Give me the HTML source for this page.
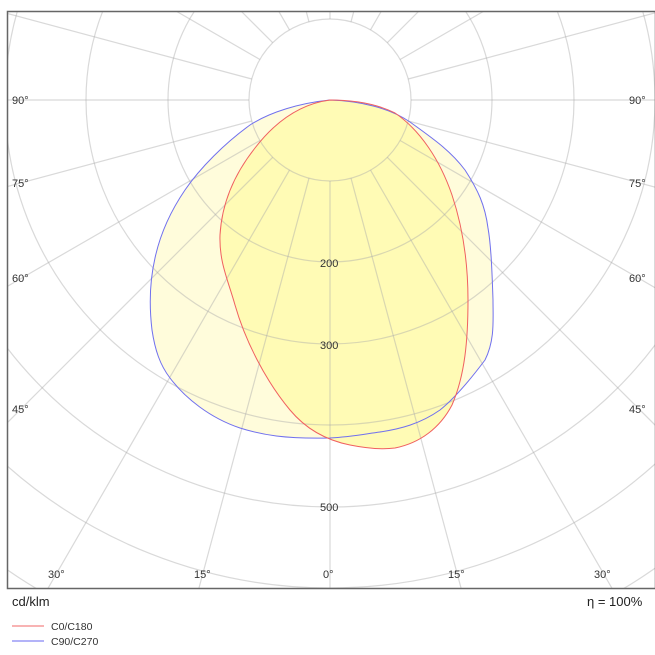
<!DOCTYPE html>
<html><head><meta charset="utf-8"><style>
html,body{margin:0;padding:0;background:#fff;width:655px;height:655px;overflow:hidden;font-family:"Liberation Sans",sans-serif}
svg{display:block}
</style></head><body>
<svg width="655" height="655" xmlns="http://www.w3.org/2000/svg" font-family="Liberation Sans, sans-serif">
<defs><clipPath id="c"><rect x="7" y="11" width="648" height="577"/></clipPath></defs>
<g clip-path="url(#c)">
<path d="M330,100 C300,103 270,112 250,125 C225,143 200,168 185,190 C170,212 160,235 155,258 C150,280 149,305 152,330 C155,350 160,365 170,378 C185,398 210,418 240,428 C262,435 285,439 330,438 C350,437 365,434 380,432 C400,429 420,424 440,410 C455,398 470,380 485,360 C495,340 493,320 493,300 C492,270 491,245 488,228 C485,205 478,190 465,170 C450,150 432,138 410,122 C390,108 360,101 330,100Z" fill="#fffcdb"/>
<path d="M330,100 C300,104 275,122 255,148 C236,172 222,200 220,235 C219,262 228,280 235,305 C245,340 265,380 290,410 C305,428 325,440 350,445 C365,448 380,450 395,448 C420,443 440,428 452,405 C465,375 468,340 468,300 C468,260 462,225 452,195 C440,160 420,130 395,113 C375,103 350,100 330,100Z" fill="#fffbb5"/>
<g stroke="#aaa" stroke-opacity="0.45" fill="none" stroke-width="1.2">
<circle cx="330" cy="100" r="81"/><circle cx="330" cy="100" r="162"/><circle cx="330" cy="100" r="244"/><circle cx="330" cy="100" r="325"/><circle cx="330" cy="100" r="407"/><circle cx="330" cy="100" r="488"/><circle cx="330" cy="100" r="570"/>
</g>
<g stroke="#aaa" stroke-opacity="0.45" stroke-width="1.2">
<line x1="411" y1="100" x2="1100" y2="100"/><line x1="249" y1="100" x2="-500" y2="100"/>
<line x1="408.2" y1="121" x2="1060" y2="295.6"/><line x1="251.8" y1="121" x2="-400" y2="295.6"/>
<line x1="400.1" y1="140.5" x2="989" y2="480.5"/><line x1="259.9" y1="140.5" x2="-329" y2="480.5"/>
<line x1="387.3" y1="157.3" x2="868" y2="638"/><line x1="272.7" y1="157.3" x2="-208" y2="638"/>
<line x1="370.5" y1="170.1" x2="710" y2="758"/><line x1="289.5" y1="170.1" x2="-50" y2="758"/>
<line x1="351" y1="178.2" x2="526" y2="830"/><line x1="309" y1="178.2" x2="134" y2="830"/>
<line x1="330" y1="181" x2="330" y2="900"/>
<line x1="408.2" y1="79" x2="1060" y2="-95.6"/><line x1="251.8" y1="79" x2="-400" y2="-95.6"/>
<line x1="400.1" y1="59.5" x2="989" y2="-280.5"/><line x1="259.9" y1="59.5" x2="-329" y2="-280.5"/>
<line x1="387.3" y1="42.7" x2="868" y2="-438"/><line x1="272.7" y1="42.7" x2="-208" y2="-438"/>
<line x1="370.5" y1="29.9" x2="710" y2="-558"/><line x1="289.5" y1="29.9" x2="-50" y2="-558"/>
<line x1="351" y1="21.8" x2="526" y2="-630"/><line x1="309" y1="21.8" x2="134" y2="-630"/>
<line x1="330" y1="19" x2="330" y2="-700"/>
</g>
<path d="M330,100 C300,103 270,112 250,125 C225,143 200,168 185,190 C170,212 160,235 155,258 C150,280 149,305 152,330 C155,350 160,365 170,378 C185,398 210,418 240,428 C262,435 285,439 330,438 C350,437 365,434 380,432 C400,429 420,424 440,410 C455,398 470,380 485,360 C495,340 493,320 493,300 C492,270 491,245 488,228 C485,205 478,190 465,170 C450,150 432,138 410,122 C390,108 360,101 330,100Z" fill="none" stroke="#7070ee" stroke-width="1"/>
<path d="M330,100 C300,104 275,122 255,148 C236,172 222,200 220,235 C219,262 228,280 235,305 C245,340 265,380 290,410 C305,428 325,440 350,445 C365,448 380,450 395,448 C420,443 440,428 452,405 C465,375 468,340 468,300 C468,260 462,225 452,195 C440,160 420,130 395,113 C375,103 350,100 330,100Z" fill="none" stroke="#f06060" stroke-width="1"/>
<g font-size="11" fill="#333">
<text x="12" y="104">90°</text><text x="12" y="187">75°</text><text x="12" y="282">60°</text><text x="12" y="413">45°</text>
<text x="629" y="104">90°</text><text x="629" y="187">75°</text><text x="629" y="282">60°</text><text x="629" y="413">45°</text>
<text x="48" y="578">30°</text><text x="194" y="578">15°</text><text x="323" y="578">0°</text><text x="448" y="578">15°</text><text x="594" y="578">30°</text>
<text x="320" y="267">200</text><text x="320" y="349">300</text><text x="320" y="511">500</text>
</g>
</g>
<rect x="7.5" y="11.5" width="648" height="577" fill="none" stroke="#666" stroke-width="1.5"/>
<text x="12" y="606" font-size="13" fill="#222">cd/klm</text>
<text x="587" y="606" font-size="13" fill="#222">η = 100%</text>
<line x1="12" y1="626" x2="44" y2="626" stroke="#f59a9a" stroke-width="1.5"/>
<line x1="12" y1="641" x2="44" y2="641" stroke="#9a9af5" stroke-width="1.5"/>
<text x="51" y="630" font-size="10.5" fill="#333">C0/C180</text>
<text x="51" y="645" font-size="10.5" fill="#333">C90/C270</text>
</svg>
</body></html>
